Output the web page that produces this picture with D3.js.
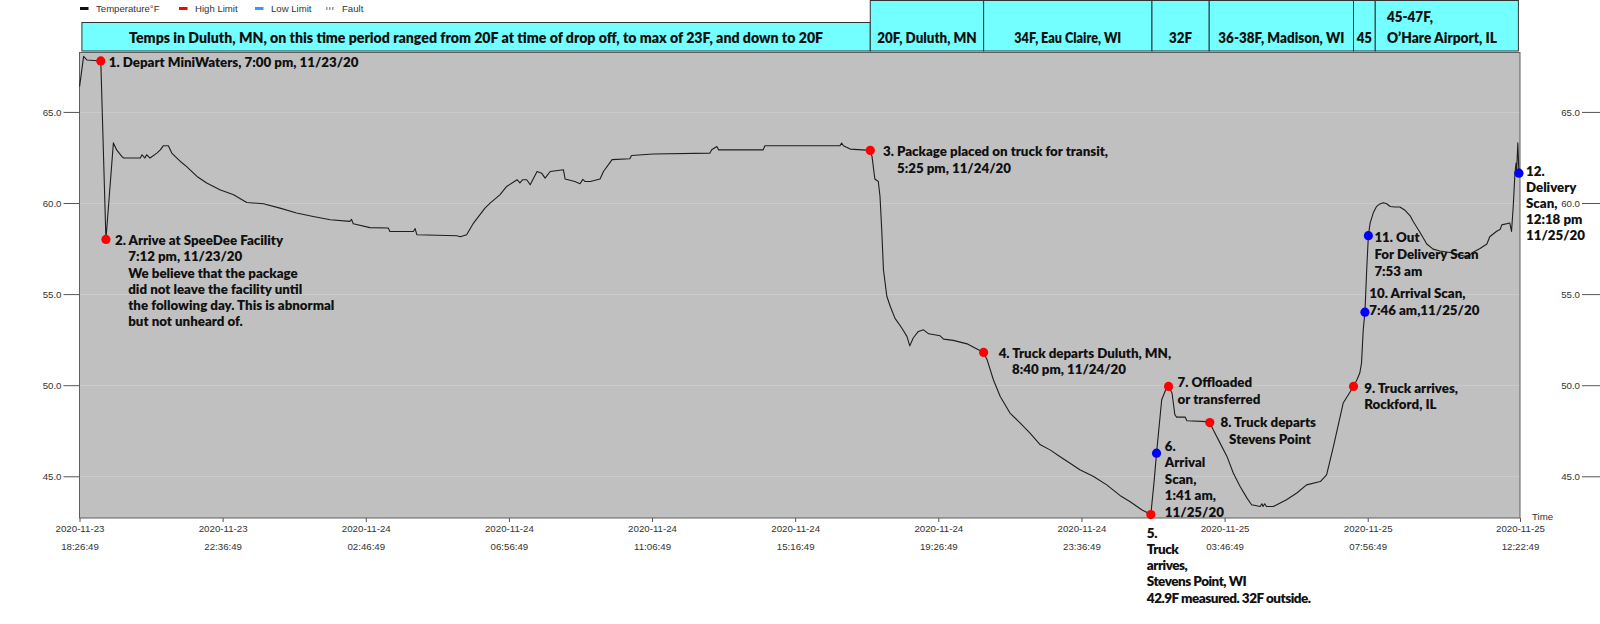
<!DOCTYPE html>
<html><head><meta charset="utf-8">
<script src="https://cdn.jsdelivr.net/npm/d3@7"></script>
<style>
body{margin:0;background:#fff;}
svg{display:block;}
</style></head><body>
<svg id="chart" width="1600" height="624"></svg>
<script>
// ---------------- DATA ----------------
const xDomain = ["2020-11-23 18:26:49", "2020-11-25 12:22:49"];
const yDomain = [42.71, 68.29];
const yTicks = [45, 50, 55, 60, 65];
const xTickTimes = ["2020-11-23 18:26:49","2020-11-23 22:36:49","2020-11-24 02:46:49","2020-11-24 06:56:49",
  "2020-11-24 11:06:49","2020-11-24 15:16:49","2020-11-24 19:26:49","2020-11-24 23:36:49",
  "2020-11-25 03:46:49","2020-11-25 07:56:49","2020-11-25 12:22:49"];

const legendNames = ["Temperature°F", "High Limit", "Low Limit", "Fault"];

const readingTimes = [
"2020-11-23 18:27","2020-11-23 18:34","2020-11-23 18:40","2020-11-23 19:04","2020-11-23 19:13","2020-11-23 19:26",
"2020-11-23 19:32","2020-11-23 19:41","2020-11-23 19:44","2020-11-23 20:13","2020-11-23 20:16","2020-11-23 20:21",
"2020-11-23 20:24","2020-11-23 20:30","2020-11-23 20:42","2020-11-23 20:48","2020-11-23 20:53","2020-11-23 21:02",
"2020-11-23 21:08","2020-11-23 21:17","2020-11-23 21:23","2020-11-23 21:34","2020-11-23 21:52","2020-11-23 22:09",
"2020-11-23 22:32","2020-11-23 22:56","2020-11-23 23:19","2020-11-23 23:48",
"2020-11-24 00:17","2020-11-24 00:46","2020-11-24 01:15","2020-11-24 01:45","2020-11-24 02:19","2020-11-24 02:22",
"2020-11-24 02:25","2020-11-24 02:54","2020-11-24 03:26","2020-11-24 03:29","2020-11-24 04:10","2020-11-24 04:13",
"2020-11-24 04:16","2020-11-24 05:26","2020-11-24 05:32","2020-11-24 05:43","2020-11-24 05:55","2020-11-24 06:15",
"2020-11-24 06:24","2020-11-24 06:41","2020-11-24 06:53","2020-11-24 07:11","2020-11-24 07:16","2020-11-24 07:21",
"2020-11-24 07:28","2020-11-24 07:34","2020-11-24 07:46","2020-11-24 07:54","2020-11-24 08:00","2020-11-24 08:09",
"2020-11-24 08:32","2020-11-24 08:35","2020-11-24 08:52","2020-11-24 09:01","2020-11-24 09:06","2020-11-24 09:10",
"2020-11-24 09:19","2020-11-24 09:36","2020-11-24 09:42","2020-11-24 09:57","2020-11-24 10:28","2020-11-24 10:31",
"2020-11-24 11:09","2020-11-24 12:48","2020-11-24 12:51","2020-11-24 13:00","2020-11-24 13:03","2020-11-24 14:21",
"2020-11-24 14:24","2020-11-24 16:35","2020-11-24 16:38","2020-11-24 16:41","2020-11-24 16:53","2020-11-24 17:28",
"2020-11-24 17:31","2020-11-24 17:36","2020-11-24 17:42","2020-11-24 17:45","2020-11-24 17:48","2020-11-24 17:51",
"2020-11-24 17:57","2020-11-24 18:03","2020-11-24 18:11","2020-11-24 18:23","2020-11-24 18:32","2020-11-24 18:37",
"2020-11-24 18:43","2020-11-24 18:52","2020-11-24 19:01","2020-11-24 19:10","2020-11-24 19:30","2020-11-24 19:36",
"2020-11-24 19:53","2020-11-24 20:17","2020-11-24 20:31","2020-11-24 20:46","2020-11-24 20:52","2020-11-24 21:03",
"2020-11-24 21:15","2020-11-24 21:32","2020-11-24 21:50","2020-11-24 22:07","2020-11-24 22:25","2020-11-24 22:42",
"2020-11-24 22:59","2020-11-24 23:17","2020-11-24 23:34","2020-11-24 23:58",
"2020-11-25 00:21","2020-11-25 00:44","2020-11-25 01:02","2020-11-25 01:22","2020-11-25 01:38","2020-11-25 01:44",
"2020-11-25 01:48","2020-11-25 01:57","2020-11-25 02:04","2020-11-25 02:09","2020-11-25 02:15","2020-11-25 02:20",
"2020-11-25 02:23","2020-11-25 02:38","2020-11-25 02:41","2020-11-25 03:16","2020-11-25 03:21","2020-11-25 03:27",
"2020-11-25 03:39","2020-11-25 03:51","2020-11-25 04:02","2020-11-25 04:14","2020-11-25 04:26","2020-11-25 04:34",
"2020-11-25 04:49","2020-11-25 04:52","2020-11-25 04:54","2020-11-25 04:57","2020-11-25 05:00","2020-11-25 05:12",
"2020-11-25 05:24","2020-11-25 05:35","2020-11-25 05:53","2020-11-25 06:10","2020-11-25 06:34","2020-11-25 06:45",
"2020-11-25 06:57","2020-11-25 07:14","2020-11-25 07:32","2020-11-25 07:38","2020-11-25 07:43","2020-11-25 07:46",
"2020-11-25 07:49","2020-11-25 07:52","2020-11-25 07:55","2020-11-25 07:58","2020-11-25 08:01","2020-11-25 08:07",
"2020-11-25 08:12","2020-11-25 08:18","2020-11-25 08:24","2020-11-25 08:30","2020-11-25 08:36","2020-11-25 08:44",
"2020-11-25 08:53","2020-11-25 09:02","2020-11-25 09:11","2020-11-25 09:16","2020-11-25 09:28","2020-11-25 09:40",
"2020-11-25 09:51","2020-11-25 10:03","2020-11-25 10:26","2020-11-25 10:38","2020-11-25 10:52","2020-11-25 11:01",
"2020-11-25 11:13","2020-11-25 11:25","2020-11-25 11:30","2020-11-25 11:36","2020-11-25 11:42","2020-11-25 11:48",
"2020-11-25 11:51","2020-11-25 12:05","2020-11-25 12:08","2020-11-25 12:11","2020-11-25 12:14","2020-11-25 12:16",
"2020-11-25 12:17","2020-11-25 12:19","2020-11-25 12:21","2020-11-25 12:22"];

const readingTemps = [
66.4,68.05,67.85,67.8,58.0,63.3,
62.9,62.55,62.47,62.47,62.65,62.47,
62.65,62.47,62.74,62.92,63.14,63.14,
62.74,62.47,62.28,62.0,61.46,61.1,
60.73,60.45,60.03,59.96,
59.72,59.45,59.26,59.08,58.99,59.1,
58.86,58.65,58.63,58.44,58.44,58.6,
58.26,58.2,58.15,58.26,58.9,59.72,
59.99,60.45,60.91,61.28,61.1,61.28,
61.28,61.0,61.73,61.64,61.37,61.73,
61.83,61.32,61.18,61.06,61.3,61.18,
61.18,61.32,61.73,62.38,62.43,62.61,
62.69,62.74,62.92,63.1,62.92,62.92,
63.14,63.14,63.29,63.14,62.96,62.89,
62.56,61.32,61.18,60.36,58.53,56.34,
54.87,54.32,53.68,53.14,52.68,52.16,
52.59,52.95,53.04,52.82,52.71,52.53,
52.46,52.27,52.04,51.8,51.4,50.3,
49.38,48.47,47.92,47.37,46.73,46.45,
46.09,45.72,45.36,44.99,
44.53,43.95,43.6,43.16,42.9,44.8,
46.27,49.2,49.75,49.93,49.57,48.38,
48.25,48.25,48.05,48.0,47.95,47.55,
46.82,46.09,45.18,44.44,43.8,43.44,
43.34,43.49,43.34,43.49,43.34,43.34,
43.53,43.71,44.08,44.53,44.71,45.08,
46.64,49.02,49.93,50.3,50.67,51.21,
53.04,54.01,56.3,58.21,58.9,59.5,
59.8,59.95,60.02,59.96,59.81,59.78,
59.78,59.6,59.3,59.0,58.4,57.75,
57.47,57.37,57.26,57.15,57.04,57.3,
57.5,57.75,58.15,58.3,58.45,58.55,
58.8,58.9,58.44,59.81,61.64,62.2,
61.8,63.3,61.64,61.9];

const eventTimes = ["2020-11-23 19:04","2020-11-23 19:13","2020-11-24 17:28","2020-11-24 20:46",
  "2020-11-25 01:38","2020-11-25 01:48","2020-11-25 02:09","2020-11-25 03:21",
  "2020-11-25 07:32","2020-11-25 07:52","2020-11-25 07:58","2020-11-25 12:21"];
const eventTemps = [67.8, 58.0, 62.89, 51.8, 42.9, 46.27, 49.93, 47.95, 49.93, 54.01, 58.21, 61.64];
const eventKinds = ["high","high","high","high","high","low","high","high","high","low","low","low"];
const eventLabels = [
  ["1. Depart MiniWaters, 7:00 pm, 11/23/20"],
  ["2. Arrive at SpeeDee Facility","7:12 pm, 11/23/20","We believe that the package","did not leave the facility until","the following day. This is abnormal","but not unheard of."],
  ["3. Package placed on truck for transit,","5:25 pm, 11/24/20"],
  ["4. Truck departs Duluth, MN,","8:40 pm, 11/24/20"],
  ["5.","Truck","arrives,","Stevens Point, WI","42.9F measured. 32F outside."],
  ["6.","Arrival","Scan,","1:41 am,","11/25/20"],
  ["7. Offloaded","or transferred"],
  ["8. Truck departs","Stevens Point"],
  ["9. Truck arrives,","Rockford, IL"],
  ["10. Arrival Scan,","7:46 am,11/25/20"],
  ["11. Out","For Delivery Scan","7:53 am"],
  ["12.","Delivery","Scan,","12:18 pm","11/25/20"]
];

const headerStarts = ["2020-11-23 18:31","2020-11-24 17:28","2020-11-24 20:46","2020-11-25 01:40","2020-11-25 03:20","2020-11-25 07:32","2020-11-25 08:10"];
const headerEnds   = ["2020-11-24 17:28","2020-11-24 20:46","2020-11-25 01:40","2020-11-25 03:20","2020-11-25 07:32","2020-11-25 08:10","2020-11-25 12:20"];
const headerLines = [
  ["Temps in Duluth, MN, on this time period ranged from 20F at time of drop off, to max of 23F, and down to 20F"],
  ["20F, Duluth, MN"],["34F, Eau Claire, WI"],["32F"],["36-38F, Madison, WI"],["45"],
  ["45-47F,","O’Hare Airport, IL"]
];

// ---------------- LAYOUT (positions/styles, not data) ----------------
const M = {left: 79.5, right: 1520, top: 52, bottom: 518};
const labelLayout = [
  {dx: 8,   dy: 1.5, lh: 16.2, ind: [0]},
  {dx: 9,   dy: 1,   lh: 16.2, ind: [0,13.3,13.3,13.3,13.3,13.3]},
  {dx: 12.7,dy: 0.8, lh: 16.6, ind: [0,14]},
  {dx: 15,  dy: 0.6, lh: 16.6, ind: [0,13.4]},
  {dx: -4,  dy: 18.5,lh: 16.2, ind: [0,0,0,0,0], cond: true},
  {dx: 8.3, dy: -7.3,lh: 16.5, ind: [0,0,0,0,0]},
  {dx: 9,   dy: -4,  lh: 16.6, ind: [0,0]},
  {dx: 10.7,dy: 0,   lh: 16.6, ind: [0,8.6]},
  {dx: 10.7,dy: 1.6, lh: 16.6, ind: [0,0]},
  {dx: 4.3, dy: -19, lh: 16.6, ind: [0,0]},
  {dx: 6,   dy: 1.5, lh: 16.8, ind: [0,0,0]},
  {dx: 7,   dy: -1.6,lh: 16,   ind: [0,0,0,0,0]}
];
const headerTextWidths = [[694],[99.5],[107],[23],[126],[15.4],[46,110]];

// ---------------- DRAW ----------------
const svg = d3.select("#chart");
const parseT = d3.timeParse("%Y-%m-%d %H:%M");
const parseS = d3.timeParse("%Y-%m-%d %H:%M:%S");
const AX_FONT = "'Liberation Sans', Arial, sans-serif";
const LBL_FONT = "Lato, 'Open Sans', sans-serif";

const x = d3.scaleTime().domain(xDomain.map(parseS)).range([M.left, M.right]);
const y = d3.scaleLinear().domain(yDomain).range([M.bottom, M.top]);

// plot background
svg.append("rect").attr("x", M.left).attr("y", M.top)
  .attr("width", M.right - M.left).attr("height", M.bottom - M.top)
  .attr("fill", "#c0c0c0");

// gridlines
svg.append("g").selectAll("line").data(yTicks).join("line")
  .attr("x1", M.left).attr("x2", M.right)
  .attr("y1", d => Math.round(y(d)) + 0.5).attr("y2", d => Math.round(y(d)) + 0.5)
  .attr("stroke", "#cbcbcb").attr("stroke-width", 1);

// border
svg.append("rect").attr("x", M.left).attr("y", M.top + 0.5)
  .attr("width", M.right - M.left).attr("height", M.bottom - M.top - 0.5)
  .attr("fill", "none").attr("stroke", "#5f5f5f").attr("stroke-width", 1);

function styleAxis(g) {
  g.select(".domain").remove();
  g.selectAll(".tick line").attr("stroke", "#555");
  g.selectAll(".tick text").attr("fill", "#333").style("font-family", AX_FONT).style("font-size", "9.7px");
}

// left y axis
svg.append("g").attr("transform", `translate(${M.left},0)`)
  .call(d3.axisLeft(y).tickValues(yTicks).tickSize(16).tickPadding(2).tickFormat(d3.format(".1f")))
  .call(styleAxis);
// right y axis (at page edge)
svg.append("g").attr("transform", `translate(1600,0)`)
  .call(d3.axisLeft(y).tickValues(yTicks).tickSize(18).tickPadding(2).tickFormat(d3.format(".1f")))
  .call(styleAxis);

// bottom x axis
const fmtD = d3.timeFormat("%Y-%m-%d"), fmtT = d3.timeFormat("%H:%M:%S");
const xg = svg.append("g").attr("transform", `translate(0,${M.bottom})`)
  .call(d3.axisBottom(x).tickValues(xTickTimes.map(parseS)).tickSize(4).tickFormat(""));
xg.select(".domain").remove();
xg.selectAll(".tick line").attr("stroke", "#555");
xg.selectAll(".tick").each(function(d) {
  const t = d3.select(this).append("text").attr("fill", "#333").attr("text-anchor", "middle")
    .style("font-family", AX_FONT).style("font-size", "9.7px");
  t.append("tspan").attr("x", 0).attr("y", 14).text(fmtD(d));
  t.append("tspan").attr("x", 0).attr("y", 31.5).text(fmtT(d));
});
svg.append("text").attr("x", 1532).attr("y", 519.5).attr("fill", "#333")
  .style("font-family", AX_FONT).style("font-size", "9.7px").text("Time");

// legend
const legendColors = ["#111", "#ff0000", "#3399ff", "#999"];
const legendDashX = [80, 179, 255, 326];
const lg = svg.append("g");
legendNames.forEach((n, i) => {
  if (i < 3) {
    lg.append("rect").attr("x", legendDashX[i]).attr("y", 7).attr("width", 8.5).attr("height", 3)
      .attr("fill", legendColors[i]);
  } else {
    lg.append("line").attr("x1", legendDashX[i]).attr("x2", legendDashX[i] + 8.5)
      .attr("y1", 8.5).attr("y2", 8.5).attr("stroke", legendColors[i]).attr("stroke-width", 3)
      .attr("stroke-dasharray", "1.5,1.5");
  }
  lg.append("text").attr("x", legendDashX[i] + 16).attr("y", 12).attr("fill", "#333")
    .style("font-family", AX_FONT).style("font-size", "9.6px").text(n);
});

// header boxes
const hg = svg.append("g");
headerLines.forEach((lines, i) => {
  const x0 = x(parseT(headerStarts[i])), x1 = x(parseT(headerEnds[i]));
  const top = i === 0 ? 22.5 : 0.5;
  hg.append("rect").attr("x", x0).attr("y", top).attr("width", x1 - x0).attr("height", 51 - top)
    .attr("fill", "#73ffff").attr("stroke", "#333").attr("stroke-width", 1);
  if (lines.length === 1) {
    hg.append("text").attr("x", (x0 + x1) / 2).attr("y", 42.5).attr("text-anchor", "middle")
      .attr("textLength", headerTextWidths[i][0]).attr("lengthAdjust", "spacingAndGlyphs")
      .style("font-family", LBL_FONT).style("font-weight", 800).style("font-size", "14px")
      .attr("fill", "#111").text(lines[0]);
  } else {
    lines.forEach((ln, j) => {
      hg.append("text").attr("x", x0 + 11.7).attr("y", 22 + j * 20.5)
        .attr("textLength", headerTextWidths[i][j]).attr("lengthAdjust", "spacingAndGlyphs")
        .style("font-family", LBL_FONT).style("font-weight", 800).style("font-size", "14px")
        .attr("fill", "#111").text(ln);
    });
  }
});

// temperature line
const readings = readingTimes.map((t, i) => ({t: parseT(t), v: readingTemps[i]}));
svg.append("path").datum(readings)
  .attr("fill", "none").attr("stroke", "#1e1e1e").attr("stroke-width", 1.1)
  .attr("stroke-linejoin", "round")
  .attr("d", d3.line().x(d => x(d.t)).y(d => y(d.v)));

// event markers
const events = eventTimes.map((t, i) => ({t: parseT(t), v: eventTemps[i], kind: eventKinds[i], lines: eventLabels[i], L: labelLayout[i]}));
const kindColor = {high: "#ff0000", low: "#0000ff"};
svg.append("g").selectAll("circle").data(events).join("circle")
  .attr("cx", d => x(d.t)).attr("cy", d => y(d.v)).attr("r", 4.6)
  .attr("fill", d => kindColor[d.kind]);

// annotations
const ag = svg.append("g");
events.forEach(e => {
  const cx = x(e.t), cy = y(e.v), L = e.L;
  e.lines.forEach((ln, j) => {
    ag.append("text")
      .attr("x", cx + L.dx + L.ind[j])
      .attr("y", cy + L.dy + j * L.lh)
      .attr("dy", "0.36em")
      .attr("fill", "#111")
      .style("font-family", LBL_FONT).style("font-weight", 800)
      .style("font-size", L.cond ? "13.5px" : "13.3px")
      .style("letter-spacing", L.cond ? "-0.5px" : "0px")
      .text(ln);
  });
});
</script>
</body></html>
